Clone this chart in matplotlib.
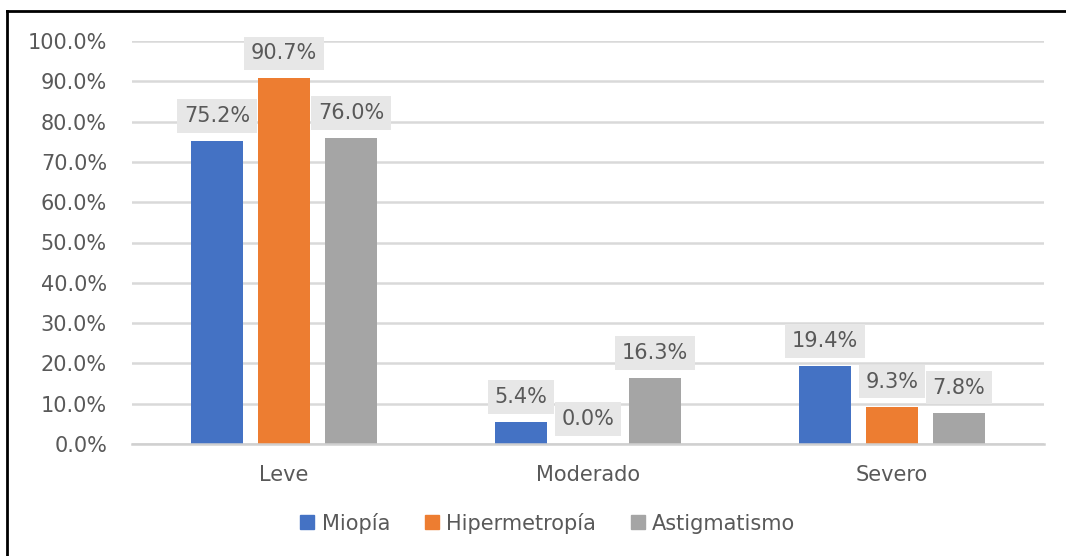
import matplotlib
matplotlib.use("Agg")
import matplotlib.pyplot as plt
from matplotlib.lines import Line2D
import numpy as np

categories = ["Leve", "Moderado", "Severo"]
series_names = ["Miopía", "Hipermetropía", "Astigmatismo"]
miopia = [75.2, 5.4, 19.4]
hipermetropia = [90.7, 0.0, 9.3]
astigmatismo = [76.0, 16.3, 7.8]
yticks = [0, 10, 20, 30, 40, 50, 60, 70, 80, 90, 100]
colors = ["#4472C4", "#ED7D31", "#A5A5A5"]

plt.rcParams['font.family'] = ['DejaVu Sans']
txt = "#595959"
fs = 15

fig = plt.figure(figsize=(10.66, 5.56), dpi=100)
ax = fig.add_axes([132/1066, 1-444/556, (1044-132)/1066, (444-41)/556])

x = np.arange(len(categories))
w = 0.171
step = 0.22
all_series = [miopia, hipermetropia, astigmatismo]
for i, (vals, name, c) in enumerate(zip(all_series, series_names, colors)):
    pos = x + (i - 1) * step
    ax.bar(pos, vals, width=w, color=c, label=name, zorder=3)
    for px, v in zip(pos, vals):
        ax.annotate(f"{v:.1f}%", (px, v), xytext=(0, 18), textcoords="offset points",
                    ha="center", va="center", fontsize=fs, color=txt, zorder=5,
                    bbox=dict(boxstyle="square,pad=0.33", fc="#E7E7E7", ec="none"))

ax.set_xlim(-0.5, 2.5)
ax.set_ylim(0, 100)
ax.set_yticks(yticks)
ax.set_yticklabels([f"{t:.1f}%" for t in yticks])
ax.set_xticks(x)
ax.set_xticklabels(categories)
ax.grid(axis="y", color="#D9D9D9", linewidth=1.8, zorder=0)
for s in ["top", "right", "left"]:
    ax.spines[s].set_visible(False)
ax.spines["bottom"].set_color("#D0D0D0")
ax.spines["bottom"].set_linewidth(1.8)
ax.spines["bottom"].set_zorder(4)
ax.tick_params(axis="both", length=0, labelsize=fs, labelcolor=txt)
ax.tick_params(axis="y", pad=18)
ax.tick_params(axis="x", pad=15)

handles = [Line2D([], [], marker="s", linestyle="none", markersize=10, color=c) for c in colors]
fig.legend(handles, series_names, loc="center", bbox_to_anchor=(546/1066, 1-523/556),
           ncol=3, frameon=False, fontsize=fs, labelcolor=txt,
           handletextpad=0.2, columnspacing=1.5, handlelength=1.0)

# outer frame (top and left)
fig.add_artist(Line2D([7/1066, 1], [1-10.5/556, 1-10.5/556], color="black", linewidth=2, transform=fig.transFigure))
fig.add_artist(Line2D([7/1066, 7/1066], [0, 1-10.5/556], color="black", linewidth=2, transform=fig.transFigure))

fig.savefig("out.png", dpi=100)
